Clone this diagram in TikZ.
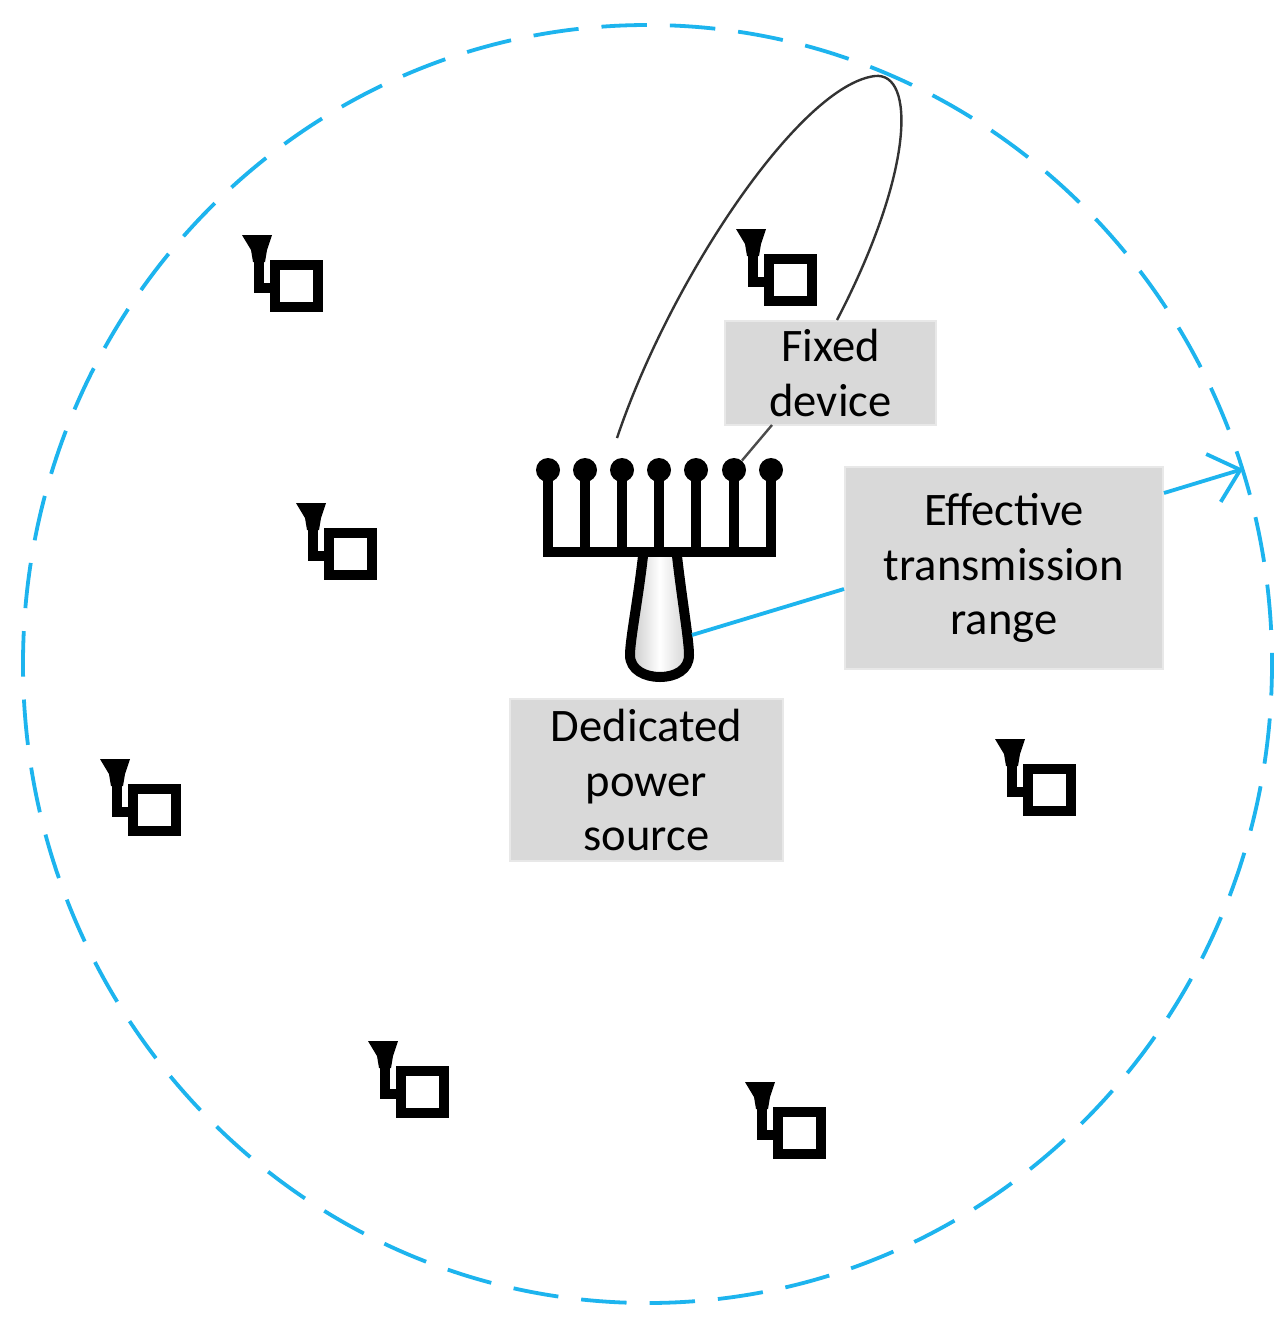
\documentclass[tikz,border=0pt]{standalone}
\usepackage{fontspec}
\setmainfont{Carlito}
\usetikzlibrary{arrows.meta}
\definecolor{rangeblue}{HTML}{1DB4EE}
\definecolor{labelgray}{HTML}{D9D9D9}
\tikzset{
  labelbox/.style={fill=labelgray,draw=labelgray!60!white,line width=1pt,inner sep=0pt,align=center,font=\fontsize{23.3}{27.3}\selectfont,text=black},
  rangeline/.style={rangeblue,line width=1.9pt},
  beamline/.style={black!80,line width=1.2pt},
  heavy/.style={black,line width=5pt,line join=miter},
  pinball/.style={circle,fill=black,minimum size=12pt,inner sep=0pt},
  device/.pic={
    \fill[black] (-54,-51) -- (-24,-51) -- (-29,-36) -- (-31,-24) -- (-43,-24) -- (-45,-36) -- cycle;
    \draw[black,line width=5.4pt,line join=miter] (-37,-30) -- (-37,2) -- (-20,2);
    \draw[black,line width=5.4pt,fill=white] (-21,-21) rectangle (22,21);
  }
}
\begin{document}
\begin{tikzpicture}[x=0.5pt,y=-0.5pt]
\useasboundingbox (0,0) rectangle (1288,1328);
\fill[white] (0,0) rectangle (1288,1328);
% range circle
\draw[rangeline,dash pattern=on 22.75pt off 11.5pt,dash phase=7pt] (647.5,664) ellipse [x radius=624.5,y radius=639];
% devices
\path (296,286) pic {device};
\path (790,280) pic {device};
\path (350,554) pic {device};
\path (154,810) pic {device};
\path (1049,790) pic {device};
\path (422,1092) pic {device};
\path (799,1133) pic {device};
% power source body
\shade[left color=black!22,right color=black!18,middle color=white] (643,556) -- (677,556) .. controls (682,600) and (689,640) .. (689,655) .. controls (689,670) and (675,677) .. (660,677) .. controls (645,677) and (630,670) .. (630,655) .. controls (630,640) and (638,600) .. (643,556) -- cycle;
\draw[heavy] (643,556) .. controls (638,600) and (630,640) .. (630,655) .. controls (630,670) and (645,677) .. (660,677) .. controls (675,677) and (689,670) .. (689,655) .. controls (689,640) and (682,600) .. (677,556);
% array
\foreach \px in {548,585,622,659,696,734,771} \draw[heavy] (\px,470) -- (\px,552);
\draw[heavy,line cap=butt] (543,552) -- (776,552);
\foreach \px/\nm in {548/a,585/b,622/c,659/d,696/e,734/f,771/g}
  \node[pinball] (pin\nm) at (\px,470) {};
% labels
\node[labelbox,minimum width=105.5pt,minimum height=52pt] (fixed) at (830.5,373) {Fixed\\device};
\node[labelbox,minimum width=159pt,minimum height=101pt] (range) at (1004,568) {Effective\\transmission\\range};
\node[labelbox,minimum width=136.5pt,minimum height=81pt] (source) at (646.5,780) {Dedicated\\power\\source};
% beam
\coordinate (beamstart) at (617,438);
\coordinate (beamend) at (837,320);
\draw[beamline] (beamstart) .. controls (670,280) and (800,85) .. (875,76) .. controls (915,72) and (915,170) .. (beamend);
% connectors
\coordinate (fixedfoot) at (772,425);
\draw[beamline,black!70] (fixedfoot) -- (pinf);
\coordinate (rangeleft) at (range.west |- 0,589);
\coordinate (rangeright) at (range.east |- 0,493);
\coordinate (bodyside) at (692,635);
\coordinate (rangetip) at (1243,469);
\draw[rangeline] (rangeleft) -- (bodyside);
\draw[rangeline,-{Straight Barb[length=14pt,width=25pt,line width=1.9pt]}] (rangeright) -- (rangetip);
\end{tikzpicture}
\end{document}
